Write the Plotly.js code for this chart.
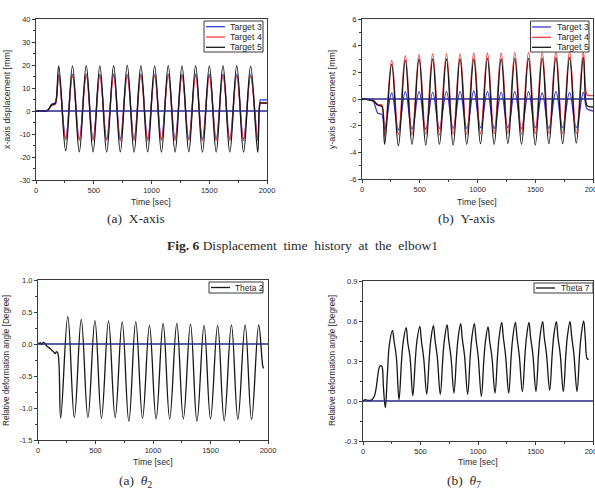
<!DOCTYPE html>
<html>
<head>
<meta charset="utf-8">
<script src="https://cdn.plot.ly/plotly-3.0.1.min.js"></script>
<style>
  html, body { margin: 0; padding: 0; background: #fff; }
  #chart { width: 595px; height: 494px; }
</style>
</head>
<body>
<div id="chart"></div>
<script>
// ---------- series names ----------
const targetNames = ['Target 3', 'Target 4', 'Target 5'];
const thetaNames = ['Theta 2', 'Theta 7'];

// ---------- (a) x-axis displacement [mm] vs time [sec] ----------
const timeX = [0, 60, 95, 115, 135, 155, 168,
  197, 257, 316, 375, 435, 494, 553, 612, 672, 730, 790, 849, 908, 967, 1027, 1086,
  1145, 1204, 1264, 1323, 1382, 1441, 1501, 1560, 1619, 1678, 1738, 1797, 1858, 1920,
  1943, 1955, 2000];
const dispX3 = [0, 0, 0.1, 1.3, 2.9, 3.3, 3.6,
  15.8, -11.8, 15.9, -12.0, 16.0, -12.0, 15.9, -12.1, 16.0, -12.0, 15.9, -12.1, 16.0, -12.0, 15.9, -12.1,
  16.0, -12.0, 15.9, -12.1, 16.0, -12.0, 15.9, -12.1, 16.0, -12.0, 15.9, -12.1, 15.8, -12.1,
  4.9, 4.8, 4.8];
const dispX4 = [0, 0, 0.1, 1.0, 2.3, 2.6, 2.9,
  15.0, -12.6, 15.1, -12.8, 15.2, -12.9, 15.1, -12.8, 15.2, -12.9, 15.2, -12.8, 15.1, -12.9, 15.2, -12.8,
  15.2, -12.9, 15.1, -12.8, 15.2, -12.9, 15.1, -12.9, 15.2, -12.9, 15.1, -12.9, 15.0, -12.9,
  3.4, 3.3, 3.3];
const dispX5 = [0, 0, 0.1, 1.2, 2.6, 3.0, 3.3,
  19.6, -17.3, 19.6, -17.8, 19.7, -17.8, 19.6, -17.9, 19.7, -17.8, 19.8, -17.9, 19.7, -17.8, 19.6, -17.9,
  19.7, -17.9, 19.6, -17.8, 19.7, -17.9, 19.6, -17.9, 19.7, -17.9, 19.7, -17.9, 19.5, -17.9,
  3.6, 3.5, 3.5];

// ---------- (b) y-axis displacement [mm] vs time [sec] ----------
const timeY = [0, 40, 80, 100, 120, 135, 150, 172,
  196, 257, 315, 375, 433, 494, 552, 612, 670, 731, 789, 849, 907, 968, 1026, 1086,
  1144, 1205, 1263, 1323, 1381, 1442, 1500, 1560, 1618, 1679, 1737, 1797, 1855, 1916,
  1945, 1960, 2000];
const dispY3 = [0, -0.03, -0.1, -0.2, -0.7, -1.05, -1.1, -1.15,
  -2.25, 0.45, -2.3, 0.55, -2.25, 0.55, -2.25, 0.5, -2.2, 0.55, -2.2, 0.55, -2.2, 0.6, -2.15, 0.55,
  -2.2, 0.5, -2.15, 0.55, -2.2, 0.55, -2.15, 0.45, -2.2, 0.55, -2.15, 0.5, -2.15, 0.5,
  -0.7, -0.8, -0.9];
const dispY4 = [0, -0.02, -0.08, -0.12, -0.3, -0.4, -0.42, -0.45,
  -2.75, 2.9, -2.65, 3.25, -2.7, 3.35, -2.65, 3.4, -2.7, 3.4, -2.65, 3.4, -2.65, 3.45, -2.6, 3.45,
  -2.6, 3.45, -2.6, 3.5, -2.65, 3.5, -2.6, 3.5, -2.6, 3.55, -2.6, 3.55, -2.6, 3.55,
  0.35, 0.27, 0.25];
const dispY5 = [0, -0.03, -0.1, -0.15, -0.32, -0.45, -0.5, -0.55,
  -3.4, 2.6, -3.5, 2.9, -3.4, 3.0, -3.45, 3.0, -3.4, 3.0, -3.45, 3.0, -3.4, 3.0, -3.35, 3.05,
  -3.4, 3.0, -3.35, 3.05, -3.4, 3.05, -3.45, 3.05, -3.35, 3.1, -3.35, 3.1, -3.3, 3.1,
  -0.45, -0.55, -0.6];

// ---------- (a) theta 2 relative deformation angle [Degree] ----------
const timeT2 = [0, 10, 20, 30, 40, 55, 65, 75, 90, 105, 120, 135, 150, 160, 172,
  197, 259, 316, 376, 434, 495, 552, 613, 671, 732, 790, 850, 909, 969, 1027, 1088,
  1145, 1207, 1264, 1326, 1382, 1444, 1500, 1562, 1619, 1682, 1738, 1801, 1857, 1919,
  1955, 1962];
const theta2 = [0, 0.01, 0.02, -0.01, 0.02, 0.02, 0.0, -0.03, -0.05, -0.07, -0.1, -0.12, -0.15, -0.12, -0.14,
  -1.16, 0.43, -1.15, 0.385, -1.15, 0.365, -1.16, 0.36, -1.15, 0.345, -1.21, 0.35, -1.16, 0.29, -1.17, 0.32,
  -1.17, 0.32, -1.17, 0.31, -1.21, 0.29, -1.17, 0.29, -1.20, 0.30, -1.18, 0.30, -1.18, 0.30,
  -0.35, -0.38];

// ---------- (b) theta 7 relative deformation angle [Degree] ----------
const timeT7 = [0, 20, 40, 60, 80, 100, 115, 130, 145, 160, 168, 178, 194, 212, 229, 256, 270, 290,
  313, 335, 349, 375, 389, 409,
  433, 455, 469, 494, 508, 528,
  554, 576, 590, 612, 626, 646,
  672, 694, 708, 731, 745, 765,
  791, 813, 827, 849, 863, 883,
  910, 932, 946, 968, 982, 1002,
  1029, 1051, 1065, 1087, 1101, 1121,
  1148, 1170, 1184, 1206, 1220, 1240,
  1267, 1289, 1303, 1325, 1339, 1359,
  1386, 1408, 1422, 1443, 1457, 1477,
  1504, 1526, 1540, 1562, 1576, 1596,
  1623, 1645, 1659, 1681, 1695, 1715,
  1742, 1764, 1778, 1800, 1814, 1834,
  1861, 1883, 1897, 1919, 1933, 1948, 1962];
const theta7 = [0.0, 0.01, 0.005, 0.005, 0.012, 0.04, 0.1, 0.2, 0.26, 0.265, 0.25, 0.1, -0.05, 0.2, 0.42, 0.53, 0.45, 0.33,
  0.01, 0.3, 0.44, 0.55, 0.44, 0.33,
  0.04, 0.31, 0.45, 0.56, 0.45, 0.32,
  0.05, 0.32, 0.46, 0.565, 0.46, 0.33,
  0.05, 0.32, 0.46, 0.57, 0.46, 0.33,
  0.06, 0.33, 0.47, 0.58, 0.47, 0.34,
  0.05, 0.33, 0.47, 0.58, 0.47, 0.33,
  0.035, 0.31, 0.45, 0.555, 0.45, 0.33,
  0.06, 0.34, 0.48, 0.59, 0.48, 0.34,
  0.06, 0.34, 0.48, 0.59, 0.48, 0.34,
  0.07, 0.34, 0.48, 0.59, 0.48, 0.35,
  0.07, 0.35, 0.49, 0.595, 0.48, 0.35,
  0.08, 0.35, 0.49, 0.595, 0.48, 0.35,
  0.07, 0.35, 0.49, 0.595, 0.49, 0.35,
  0.07, 0.35, 0.49, 0.60, 0.47, 0.32, 0.31];

// ---------- tick labels ----------
const timeTicks = ['0', '500', '1000', '1500', '2000'];
const dispXTicks = ['-30', '-20', '-10', '0', '10', '20', '30', '40'];
const dispYTicks = ['-6', '-4', '-2', '0', '2', '4', '6'];
const theta2Ticks = ['-1.5', '-1.0', '-0.5', '0.0', '0.5', '1.0'];
const theta7Ticks = ['-0.3', '0.0', '0.3', '0.6', '0.9'];

// ---------- captions ----------
const nb = '\u00a0';
const capXA = '(a)' + nb + nb + 'X-axis';
const capYA = '(b)' + nb + nb + 'Y-axis';
const capT2 = '(a)' + nb + nb + '<i>θ</i><sub>2</sub>';
const capT7 = '(b)' + nb + nb + '<i>θ</i><sub>7</sub>';
const figCaption = '<b>Fig. 6</b>' + [' Displacement', 'time', 'history', 'at', 'the', 'elbow1'].join(' ' + nb);
const timeTitle = 'Time [sec]';
const xDispTitle = 'x-axis displacement [mm]';
const yDispTitle = 'y-axis displacement [mm]';
const angleTitle = 'Relative deformation angle [Degree]';

// ---------- drawing ----------
const W = 595, H = 494;
const fx = p => p / W;          // pixel column -> paper x
const fy = p => 1 - p / H;      // pixel row -> paper y

const colors = { t3: '#3b3bd6', t4: '#ee3d3d', t5: '#161616', zero: '#272787', frame: '#3a3a3a', text: '#2a2a2a' };
const SANS = 'Liberation Sans, Arial, sans-serif';
const SERIF = 'Liberation Serif, Times New Roman, serif';

function steps(lo, hi, step) {
  const out = [];
  for (let v = lo; v <= hi + step * 1e-6; v += step) out.push(+v.toFixed(6));
  return out;
}

function axis(domain, anchor, labels, range, minorStep) {
  return {
    domain: domain, anchor: anchor, range: range, fixedrange: true,
    showline: true, mirror: true, linecolor: colors.frame, linewidth: 1,
    showgrid: false, zeroline: false,
    ticks: 'outside', ticklen: 3, tickwidth: 1, tickcolor: colors.frame,
    tickmode: 'array', tickvals: labels.map(Number), ticktext: labels,
    ticklabeloverflow: 'allow',
    tickfont: { family: SANS, size: 7.5, color: colors.text },
    minor: { tickmode: 'array', tickvals: steps(range[0], range[1], minorStep),
             ticks: 'outside', ticklen: 2, tickwidth: 1, tickcolor: colors.frame }
  };
}

function line(x, y, xa, ya, color, name) {
  return { type: 'scatter', mode: 'lines', x: x, y: y, xaxis: xa, yaxis: ya, name: name,
           showlegend: false, hoverinfo: 'skip',
           line: { color: color, width: 1.3, shape: 'spline', smoothing: 1.1 } };
}

const traces = [
  line(timeX, dispX3, 'x', 'y', colors.t3, targetNames[0]),
  line(timeX, dispX4, 'x', 'y', colors.t4, targetNames[1]),
  line(timeX, dispX5, 'x', 'y', colors.t5, targetNames[2]),
  line(timeY, dispY3, 'x2', 'y2', colors.t3, targetNames[0]),
  line(timeY, dispY4, 'x2', 'y2', colors.t4, targetNames[1]),
  line(timeY, dispY5, 'x2', 'y2', colors.t5, targetNames[2]),
  line(timeT2, theta2, 'x3', 'y3', colors.t5, thetaNames[0]),
  line(timeT7, theta7, 'x4', 'y4', colors.t5, thetaNames[1])
];

// plot frames in pixels: [left, right, top, bottom]
const boxA = [36, 267, 19, 180];
const boxB = [362, 593, 19, 179];
const boxC = [38, 268, 280, 440];
const boxD = [363, 593, 281, 441];
const dom = b => ({ x: [fx(b[0]), fx(b[1])], y: [fy(b[3]), fy(b[2])] });

const layout = {
  width: W, height: H,
  margin: { l: 0, r: 0, t: 0, b: 0 },
  paper_bgcolor: '#fff', plot_bgcolor: '#fff',
  showlegend: false,
  xaxis: axis(dom(boxA).x, 'y', timeTicks, [0, 2000], 250),
  yaxis: axis(dom(boxA).y, 'x', dispXTicks, [-30, 40], 5),
  xaxis2: axis(dom(boxB).x, 'y2', timeTicks, [0, 2000], 250),
  yaxis2: axis(dom(boxB).y, 'x2', dispYTicks, [-6, 6], 1),
  xaxis3: axis(dom(boxC).x, 'y3', timeTicks, [0, 2000], 250),
  yaxis3: axis(dom(boxC).y, 'x3', theta2Ticks, [-1.5, 1.0], 0.25),
  xaxis4: axis(dom(boxD).x, 'y4', timeTicks, [0, 2000], 250),
  yaxis4: axis(dom(boxD).y, 'x4', theta7Ticks, [-0.3, 0.9], 0.15),
  shapes: [],
  annotations: []
};

// zero reference line across each panel
[['x', 'y'], ['x2', 'y2'], ['x3', 'y3'], ['x4', 'y4']].forEach(([xa, ya]) => {
  layout.shapes.push({ type: 'line', layer: 'above', xref: xa + ' domain', yref: ya,
    x0: 0, x1: 1, y0: 0, y1: 0, line: { color: colors.zero, width: 1.6 } });
});

// boxed legends drawn in pixel positions
function legendBox(box, rows, lineX, textX, size) {
  layout.shapes.push({ type: 'rect', layer: 'above', xref: 'paper', yref: 'paper',
    x0: fx(box[0]), x1: fx(box[1]), y0: fy(box[3]), y1: fy(box[2]),
    fillcolor: '#fff', line: { color: colors.frame, width: 1 } });
  rows.forEach(r => {
    layout.shapes.push({ type: 'line', layer: 'above', xref: 'paper', yref: 'paper',
      x0: fx(lineX[0]), x1: fx(lineX[1]), y0: fy(r.y), y1: fy(r.y),
      line: { color: r.color, width: 1.3 } });
    layout.annotations.push({ xref: 'paper', yref: 'paper', x: fx(textX), y: fy(r.y),
      xanchor: 'left', yanchor: 'middle', showarrow: false, text: r.name,
      font: { family: SANS, size: size, color: colors.text } });
  });
}
legendBox([204, 263, 21, 52], [
  { name: targetNames[0], color: colors.t3, y: 26.7 },
  { name: targetNames[1], color: colors.t4, y: 37 },
  { name: targetNames[2], color: colors.t5, y: 47.3 }], [206, 225], 228, 8.8);
legendBox([530.5, 589, 21, 52], [
  { name: targetNames[0], color: colors.t3, y: 27 },
  { name: targetNames[1], color: colors.t4, y: 37.3 },
  { name: targetNames[2], color: colors.t5, y: 47.3 }], [532, 551], 555, 8.8);
legendBox([209, 263, 282, 293], [
  { name: thetaNames[0], color: colors.t5, y: 287.5 }], [211, 230], 232.5, 8.4);
legendBox([534, 593, 283, 293], [
  { name: thetaNames[1], color: colors.t5, y: 288 }], [536, 555], 559, 8.4);

// text helpers
function label(text, x, y, size, family, angle) {
  layout.annotations.push({ xref: 'paper', yref: 'paper', x: fx(x), y: fy(y),
    xanchor: 'center', yanchor: 'middle', showarrow: false, text: text,
    textangle: angle || 0, font: { family: family, size: size, color: colors.text } });
}
label(timeTitle, 151, 202, 8.7, SANS);
label(timeTitle, 477, 202, 8.7, SANS);
label(timeTitle, 153, 462, 8.7, SANS);
label(timeTitle, 478, 462, 8.7, SANS);
label(xDispTitle, 7, 100, 8.8, SANS, -90);
label(yDispTitle, 332, 100, 8.8, SANS, -90);
label(angleTitle, 6, 361, 8.2, SANS, -90);
label(angleTitle, 332, 361, 8.2, SANS, -90);

label(capXA, 136, 218, 13.5, SERIF);
label(capYA, 466, 218, 13.5, SERIF);
label(figCaption, 302, 245, 13.5, SERIF);
label(capT2, 135, 481, 13.5, SERIF);
label(capT7, 464, 481, 13.5, SERIF);

Plotly.newPlot('chart', traces, layout, { staticPlot: true, displayModeBar: false });
</script>
</body>
</html>
